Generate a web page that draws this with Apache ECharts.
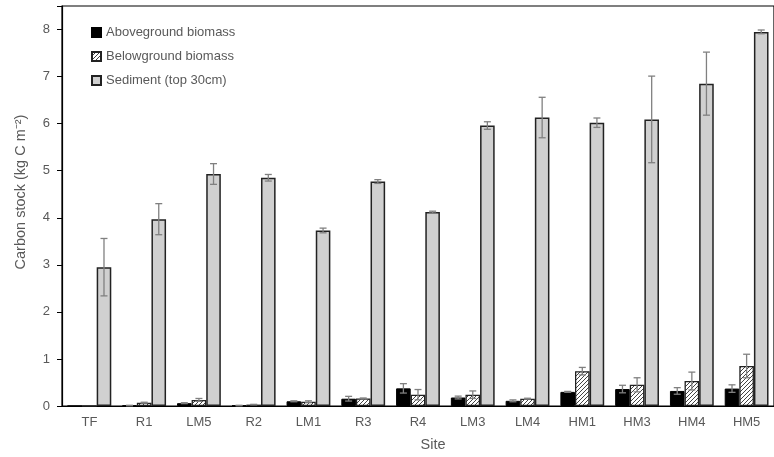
<!DOCTYPE html>
<html>
<head>
<meta charset="utf-8">
<script src="https://cdn.jsdelivr.net/npm/echarts@6/dist/echarts.min.js"></script>
<style>html,body{margin:0;padding:0;background:#fff;}#c{width:774px;height:457px;}</style>
</head>
<body>
<div id="c"></div>
<script>
const sites = ['TF','R1','LM5','R2','LM1','R3','R4','LM3','LM4','HM1','HM3','HM4','HM5'];
const aboveVals = [0, 0.01, 0.06, 0.01, 0.10, 0.155, 0.375, 0.18, 0.11, 0.30, 0.36, 0.32, 0.37];
const aboveErr  = [0, 0.005, 0.01, 0.005, 0.01, 0.05, 0.10, 0.03, 0.02, 0.01, 0.08, 0.07, 0.08];
const belowVals = [0, 0.07, 0.13, 0.03, 0.09, 0.16, 0.24, 0.24, 0.155, 0.74, 0.45, 0.53, 0.85];
const belowErr  = [0, 0.01, 0.03, 0.005, 0.02, 0.01, 0.11, 0.08, 0.01, 0.08, 0.15, 0.19, 0.25];
const sedVals   = [2.95, 3.97, 4.93, 4.85, 3.73, 4.77, 4.12, 5.96, 6.13, 6.02, 6.09, 6.85, 7.95];
const sedErr    = [0.61, 0.33, 0.22, 0.07, 0.05, 0.04, 0.02, 0.08, 0.43, 0.10, 0.92, 0.67, 0.04];
const yTicks = [0,1,2,3,4,5,6,7,8];

const pc = document.createElement('canvas');
pc.width = 4; pc.height = 4;
const g = pc.getContext('2d');
g.fillStyle = '#ffffff'; g.fillRect(0,0,4,4);
g.strokeStyle = '#444'; g.lineWidth = 1;
g.beginPath();
g.moveTo(0,4); g.lineTo(4,0);
g.moveTo(-1,1); g.lineTo(1,-1);
g.moveTo(3,5); g.lineTo(5,3);
g.stroke();

const chart = echarts.init(document.getElementById('c'), null, {renderer:'canvas'});
const labelColor = '#595959';
const font = 'Liberation Sans';
const nSeries = 3;
function errSeries(vals, errs, k) {
  return {
    type: 'custom',
    z: 10,
    silent: true,
    data: vals.map((v,i) => [i, v, errs[i]]),
    encode: {x: 0, y: 1},
    renderItem: function(params, api) {
      const v = api.value(1), e = api.value(2);
      if (!v) return null;
      const bw = api.size([1,0])[0];
      const barW = bw * 0.8 / nSeries;
      const c = api.coord([api.value(0), v]);
      const cx = c[0] + (k - 1) * barW;
      const yt = api.coord([api.value(0), v + e])[1];
      const yb = api.coord([api.value(0), Math.max(0, v - e)])[1];
      const st = {stroke: '#808080', lineWidth: 1.3};
      return {type: 'group', children: [
        {type: 'line', shape: {x1: cx, y1: yt, x2: cx, y2: yb}, style: st},
        {type: 'line', shape: {x1: cx-3.5, y1: yt, x2: cx+3.5, y2: yt}, style: st},
        {type: 'line', shape: {x1: cx-3.5, y1: yb, x2: cx+3.5, y2: yb}, style: st}
      ]};
    }
  };
}
const option = {
  animation: false,
  backgroundColor: '#fff',
  grid: {left: 62, top: 6, right: -7, bottom: 50, show: true, borderColor: '#000', borderWidth: 1.2},
  legend: {
    orient: 'vertical', left: 86, top: 21, itemGap: 11, itemWidth: 9, itemHeight: 9, icon: 'rect',
    textStyle: {color: labelColor, fontSize: 13, fontFamily: font},
    data: ['Aboveground biomass','Belowground biomass','Sediment (top 30cm)']
  },
  xAxis: {
    type: 'category', data: sites,
    name: 'Site', nameLocation: 'middle', nameGap: 31,
    nameTextStyle: {color: labelColor, fontSize: 14.5, fontFamily: font, padding: [0,0,0,30]},
    axisLine: {lineStyle: {color: '#000', width: 1.2}},
    axisTick: {show: false},
    axisLabel: {color: labelColor, fontSize: 13, fontFamily: font, margin: 10, interval: 0}
  },
  yAxis: {
    type: 'value', min: 0, max: 8.5, interval: 1,
    name: 'Carbon stock (kg C m\u207B\u00B2)', nameLocation: 'middle', nameGap: 34,
    nameTextStyle: {color: labelColor, fontSize: 14.5, fontFamily: font, padding: [0,0,0,28]},
    axisLine: {show: true, lineStyle: {color: '#000', width: 1.2}},
    axisTick: {show: true, length: 5, lineStyle: {color: '#000'}},
    splitLine: {show: false},
    axisLabel: {color: labelColor, fontSize: 13, fontFamily: font, margin: 12,
      formatter: v => yTicks.indexOf(v) >= 0 ? String(v) : ''}
  },
  series: [
    {name: 'Aboveground biomass', type: 'bar', data: aboveVals, barGap: '0%', barCategoryGap: '20%',
      itemStyle: {color: '#000', borderColor: '#000', borderWidth: 1}},
    {name: 'Belowground biomass', type: 'bar', data: belowVals, barGap: '0%', barCategoryGap: '20%',
      itemStyle: {color: {image: pc, repeat: 'repeat'}, borderColor: '#222', borderWidth: 1.3}},
    {name: 'Sediment (top 30cm)', type: 'bar', data: sedVals, barGap: '0%', barCategoryGap: '20%',
      itemStyle: {color: '#d0d0d0', borderColor: '#222', borderWidth: 1.5}},
    errSeries(aboveVals, aboveErr, 0),
    errSeries(belowVals, belowErr, 1),
    errSeries(sedVals, sedErr, 2)
  ]
};
chart.setOption(option);
</script>
</body>
</html>
